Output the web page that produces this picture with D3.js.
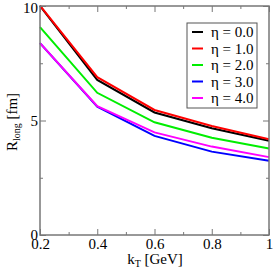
<!DOCTYPE html>
<html>
<head>
<meta charset="utf-8">
<script src="https://cdn.jsdelivr.net/npm/d3@7"></script>
<style>
  body { margin: 0; background: #fff; }
  text { font-family: "Liberation Serif", "DejaVu Serif", serif; }
</style>
</head>
<body>
<div id="wrapper"></div>
<script>
// Data
const kT = [0.2, 0.4, 0.6, 0.8, 1.0];
const etaLabels = ["η = 0.0", "η = 1.0", "η = 2.0", "η = 3.0", "η = 4.0"];
const colors = ["#000000", "#ff0000", "#00ee00", "#0000ff", "#ff00ff"];
const rEta0 = [10.0, 6.77, 5.35, 4.66, 4.12];
const rEta1 = [10.02, 6.89, 5.46, 4.76, 4.18];
const rEta2 = [9.08, 6.21, 4.92, 4.25, 3.78];
const rEta3 = [8.38, 5.60, 4.33, 3.64, 3.24];
const rEta4 = [8.38, 5.63, 4.48, 3.86, 3.40];
const series = [rEta0, rEta1, rEta2, rEta3, rEta4];
const xMajor = [0.2, 0.4, 0.6, 0.8, 1];
const xMinor = [0.3, 0.5, 0.7, 0.9];
const yMajor = [0, 5, 10];
const yMinor = [2.5, 7.5];

const dimensions = {
  width: 273,
  height: 269,
  margin: { top: 6, right: 4, bottom: 34, left: 40 },
};
dimensions.boundedWidth = dimensions.width - dimensions.margin.left - dimensions.margin.right;
dimensions.boundedHeight = dimensions.height - dimensions.margin.top - dimensions.margin.bottom;

const svg = d3.select("#wrapper").append("svg")
  .attr("width", dimensions.width)
  .attr("height", dimensions.height);

const bounds = svg.append("g")
  .attr("transform", `translate(${dimensions.margin.left},${dimensions.margin.top})`);

const xScale = d3.scaleLinear().domain([0.2, 1]).range([0, dimensions.boundedWidth]);
const yScale = d3.scaleLinear().domain([0, 10]).range([dimensions.boundedHeight, 0]);

const frameColor = "#777";

// lines
const line = d3.line()
  .x((d, i) => xScale(kT[i]))
  .y(d => yScale(d));

series.forEach((s, i) => {
  bounds.append("path")
    .datum(s)
    .attr("fill", "none")
    .attr("stroke", colors[i])
    .attr("stroke-width", 2)
    .attr("d", line);
});

// axes (ticks inward)
function styleAxis(g) {
  g.select(".domain").remove();
  g.selectAll(".tick line").attr("stroke", frameColor).attr("stroke-width", 1);
  g.selectAll("text")
    .attr("font-family", "Liberation Serif, serif")
    .attr("font-size", 15)
    .attr("fill", "#000");
}

bounds.append("g")
  .attr("transform", `translate(0,${dimensions.boundedHeight})`)
  .call(d3.axisBottom(xScale).tickValues(xMajor).tickSize(-6).tickPadding(3)
    .tickFormat(d => d === 1 ? "1" : d3.format(".1f")(d)))
  .call(styleAxis);
bounds.append("g")
  .attr("transform", `translate(0,${dimensions.boundedHeight})`)
  .call(d3.axisBottom(xScale).tickValues(xMinor).tickSize(-3).tickFormat(""))
  .call(styleAxis);
bounds.append("g")
  .call(d3.axisTop(xScale).tickValues(xMajor).tickSize(-6).tickFormat(""))
  .call(styleAxis);
bounds.append("g")
  .call(d3.axisTop(xScale).tickValues(xMinor).tickSize(-3).tickFormat(""))
  .call(styleAxis);

bounds.append("g")
  .call(d3.axisLeft(yScale).tickValues(yMajor).tickSize(-6).tickPadding(2))
  .call(styleAxis)
  .call(g => g.selectAll("text").attr("dy", d => d === 10 ? "0.45em" : "0.32em"));
bounds.append("g")
  .call(d3.axisLeft(yScale).tickValues(yMinor).tickSize(-3).tickFormat(""))
  .call(styleAxis);
bounds.append("g")
  .attr("transform", `translate(${dimensions.boundedWidth},0)`)
  .call(d3.axisRight(yScale).tickValues(yMajor).tickSize(-6).tickFormat(""))
  .call(styleAxis);
bounds.append("g")
  .attr("transform", `translate(${dimensions.boundedWidth},0)`)
  .call(d3.axisRight(yScale).tickValues(yMinor).tickSize(-3).tickFormat(""))
  .call(styleAxis);

// frame
bounds.append("rect")
  .attr("width", dimensions.boundedWidth)
  .attr("height", dimensions.boundedHeight)
  .attr("fill", "none")
  .attr("stroke", frameColor)
  .attr("stroke-width", 1.5);

// axis labels
const xLabel = svg.append("text")
  .attr("x", 155)
  .attr("y", 264)
  .attr("text-anchor", "middle")
  .attr("font-size", 15);
xLabel.append("tspan").text("k");
xLabel.append("tspan").attr("font-size", 10).attr("dy", 3).text("T");
xLabel.append("tspan").attr("dy", -3).text(" [GeV]");

const yLabel = svg.append("text")
  .attr("transform", "translate(17,122) rotate(-90)")
  .attr("text-anchor", "middle")
  .attr("font-size", 15);
yLabel.append("tspan").text("R");
yLabel.append("tspan").attr("font-size", 10).attr("dy", 3).text("long");
yLabel.append("tspan").attr("dy", -3).text(" [fm]");

// legend
const legend = svg.append("g").attr("transform", "translate(187,23)");
legend.append("rect")
  .attr("width", 70)
  .attr("height", 85)
  .attr("fill", "#fff")
  .attr("stroke", "#555")
  .attr("stroke-width", 1);
etaLabels.forEach((lab, i) => {
  const y = 9 + i * 16.5;
  legend.append("line")
    .attr("x1", 5).attr("x2", 16)
    .attr("y1", y).attr("y2", y)
    .attr("stroke", colors[i])
    .attr("stroke-width", 2);
  legend.append("text")
    .attr("x", 24)
    .attr("y", y + 5)
    .attr("font-size", 15)
    .text(lab);
});
</script>
</body>
</html>
